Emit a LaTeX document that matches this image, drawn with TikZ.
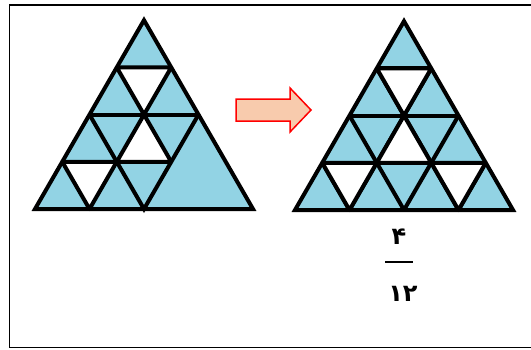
\documentclass[tikz,border=0pt]{standalone}
\usepackage{fontspec}
\usepackage{xcolor}
\usepackage{tikz}
\usetikzlibrary{calc}
\TeXXeTstate=1
\newfontfamily\persianfont[Script=Arabic]{DejaVu Sans}
\definecolor{cellblue}{HTML}{92D3E4}
\definecolor{arrowpeach}{HTML}{F8CBAD}
\definecolor{arrowred}{HTML}{FF0000}

\begin{document}
\begin{tikzpicture}[
    x=1pt, y=-1pt,
    cell/.style={fill=cellblue},
    hole/.style={fill=white, draw=black, line width=4pt, line join=round},
    gridline/.style={draw=black, line width=4pt},
    outline/.style={draw=black, line width=4pt, line join=miter},
    shiftarrow/.style={fill=arrowpeach, draw=arrowred, line width=1.5pt},
    digit/.style={font=\persianfont\bfseries\fontsize{24}{24}\selectfont, inner sep=0pt}
]
\useasboundingbox (0,0) rectangle (531,349);

% Frame
\draw[line width=1.5pt] (531,5) -- (9.5,5) -- (9.5,347.5) -- (531,347.5);

% Left triangle
\begin{scope}[shift={(35,209)}, x=27.25pt, y=47.2pt]
  \fill[cell] (0,0) -- (8,0) -- (4,4) -- cycle;
  \foreach \x/\y/\d in {3/3/-1, 3/1/1, 1/1/-1}
    \draw[hole] (\x,\y) -- ++(2,0) -- ++(-1,\d) -- cycle;
  \draw[gridline] (2,2) -- (6,2);
  \draw[gridline] (2,2) -- (4,0) -- (6,2);
  \draw[outline] (0,0) -- (8,0) -- (4,4) -- cycle;
\end{scope}

% Arrow
\draw[shiftarrow] (236,99) -- (290,99) -- (290,88) -- (311,110)
  -- (290,132) -- (290,121) -- (236,121) -- cycle;

% Right triangle
\begin{scope}[shift={(295,210)}, x=27.25pt, y=47.2pt]
  \fill[cell] (0,0) -- (8,0) -- (4,4) -- cycle;
  \foreach \k in {1,2,3} {
    \draw[gridline] (\k,\k) -- (8-\k,\k);
    \draw[gridline] (2*\k,0) -- (4+\k,4-\k);
    \draw[gridline] (2*\k,0) -- (\k,\k);
  }
  \foreach \x/\y/\d in {3/3/-1, 3/1/1, 1/1/-1, 5/1/-1}
    \draw[hole] (\x,\y) -- ++(2,0) -- ++(-1,\d) -- cycle;
  \draw[outline] (0,0) -- (8,0) -- (4,4) -- cycle;
\end{scope}

% Fraction
\node[digit] (num) at (399,236.5) {۴};
\node[digit] (den) at (403,294) {۱۲};
\coordinate (barL) at (385,262);
\coordinate (barR) at (413,262);
\draw[line width=2pt] (barL) -- (barR);

\end{tikzpicture}
\end{document}
